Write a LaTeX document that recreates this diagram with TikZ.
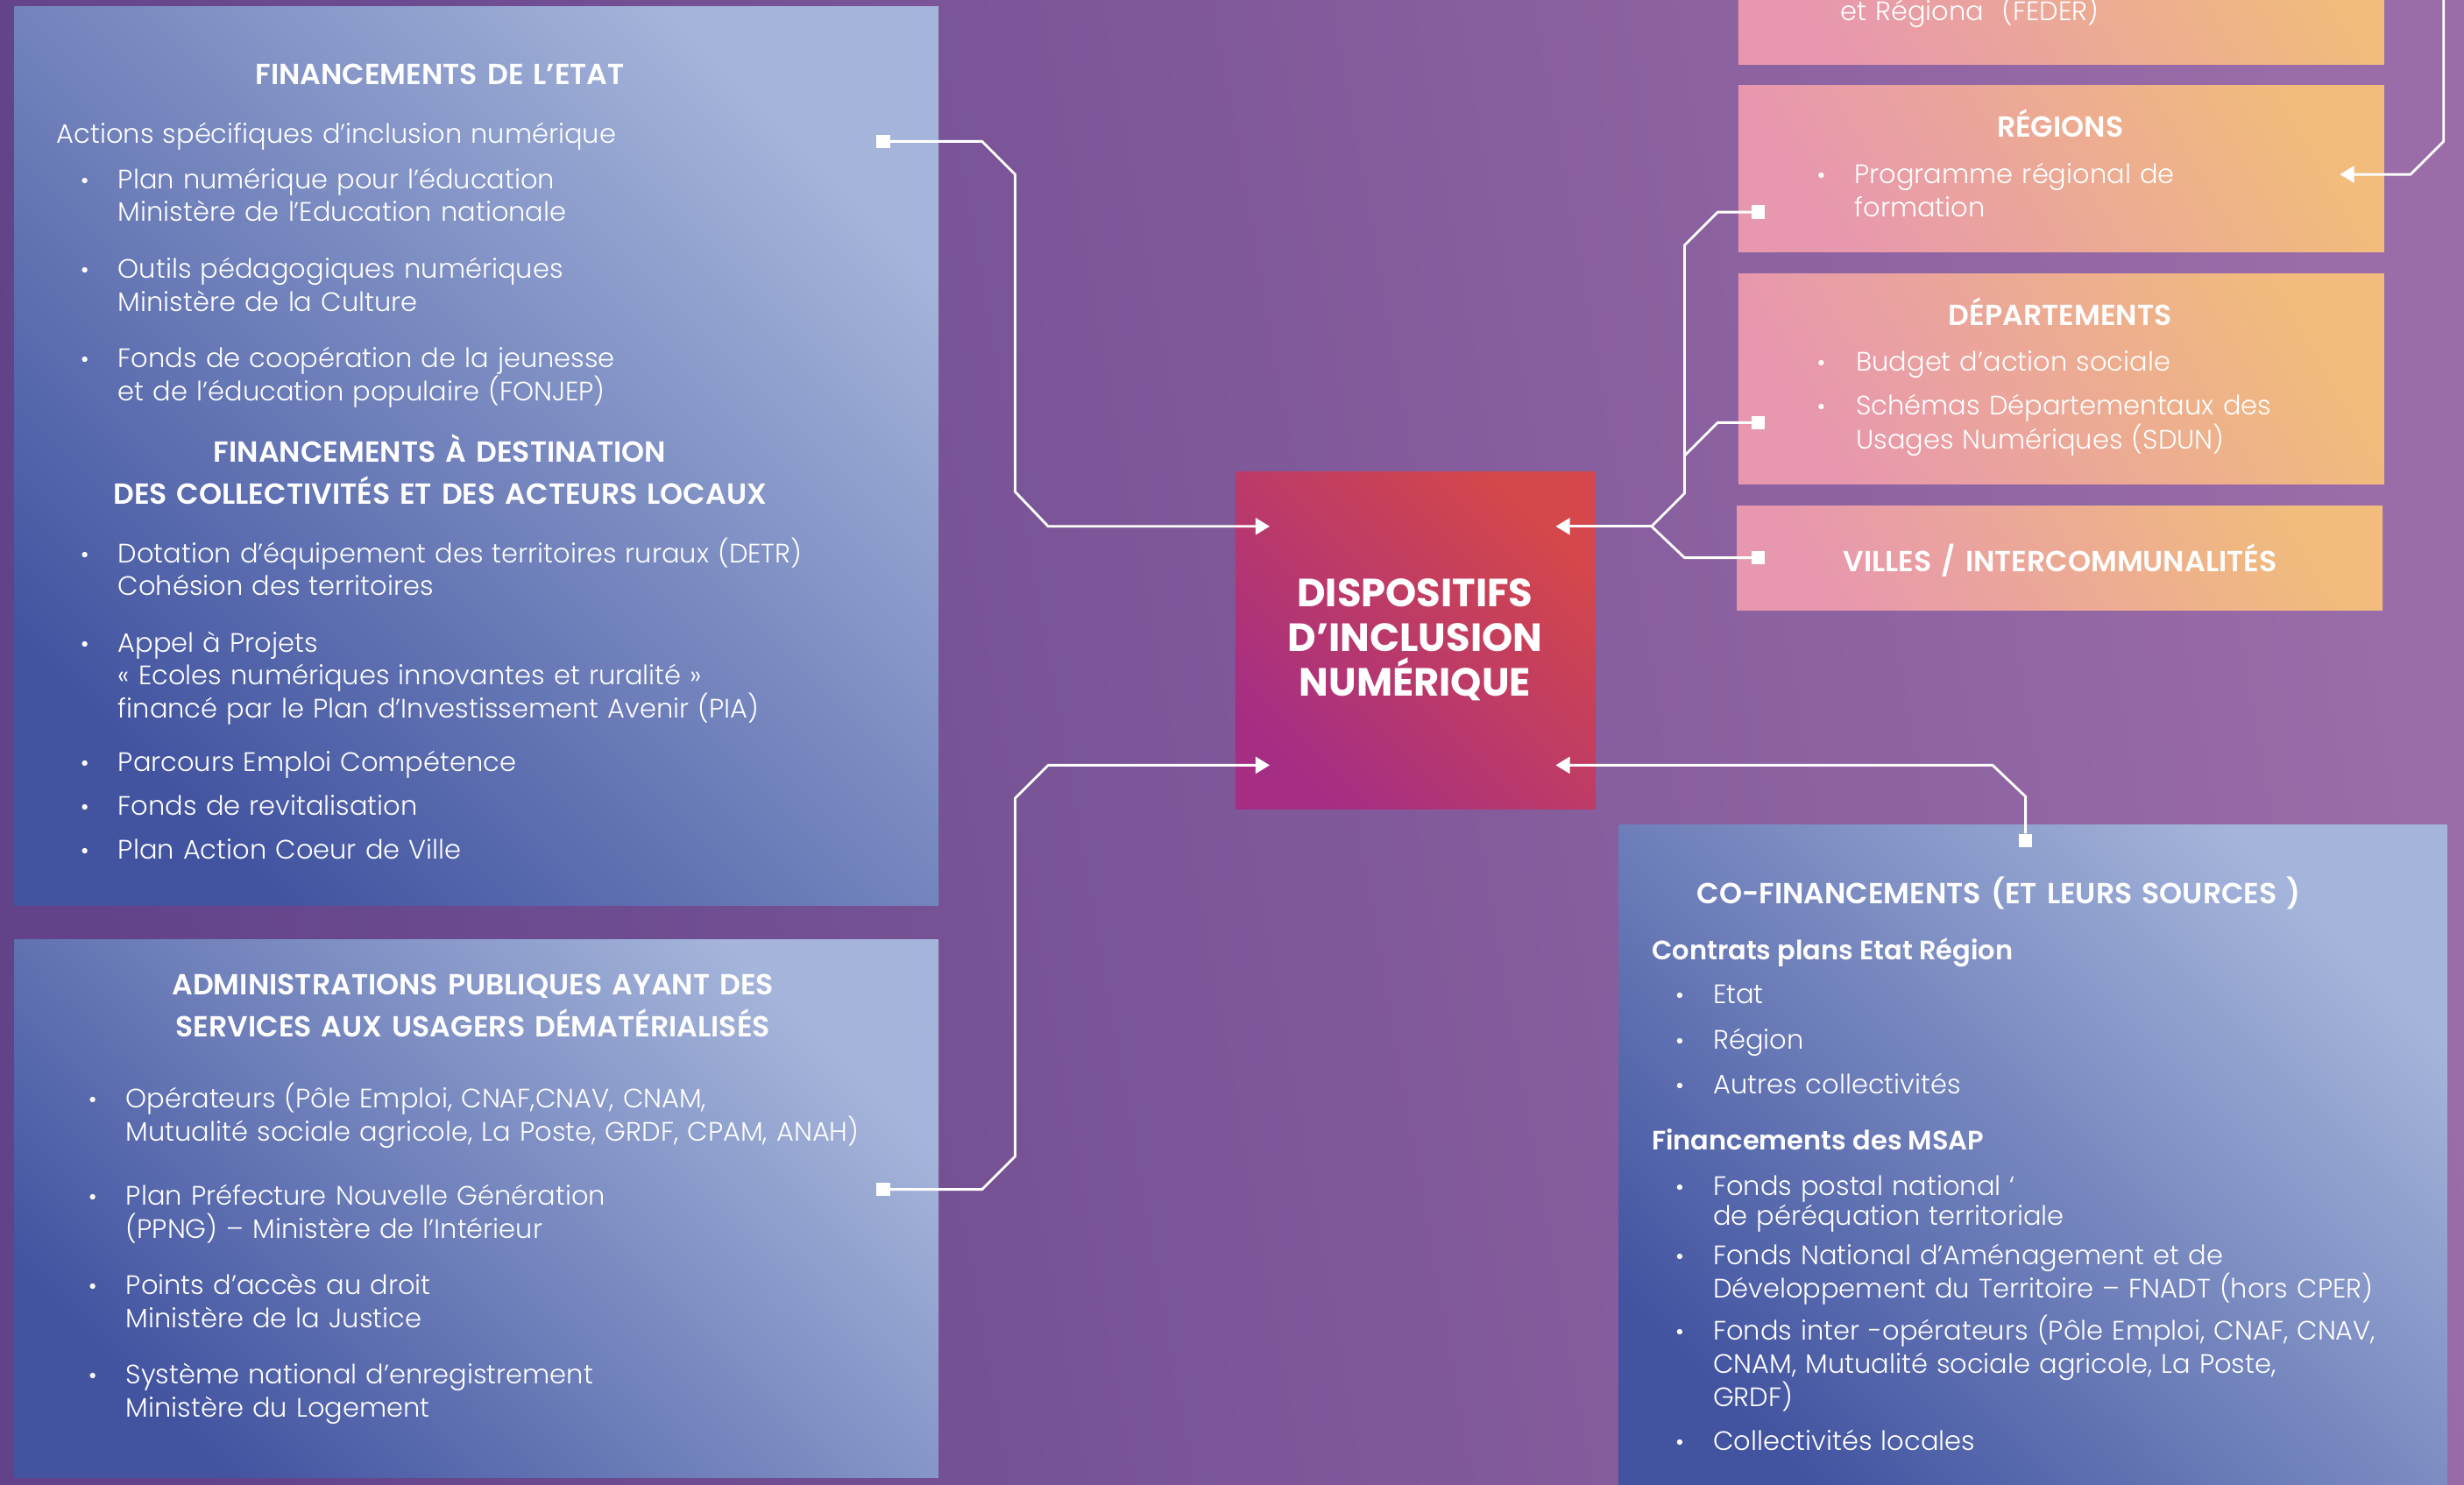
\documentclass[tikz,border=0pt]{standalone}
\usepackage{fontspec}
\setmainfont{Poppins Light}
\newfontfamily\titrefont{Poppins SemiBold}
\newfontfamily\grasfont{Poppins Bold}
\usetikzlibrary{arrows.meta}

\definecolor{fondG}{HTML}{62438A}
\definecolor{fondD}{HTML}{9A6CA8}
\definecolor{bleuC}{HTML}{A4B4DA}
\definecolor{bleuF}{HTML}{4254A0}
\definecolor{roseC}{HTML}{E797AE}
\definecolor{pecheC}{HTML}{F1BC7C}
\definecolor{rougeC}{HTML}{D4474A}
\definecolor{magentaC}{HTML}{A52E84}

\tikzset{
  boite/.style={rectangle, inner sep=0pt, anchor=north west},
  bleu/.style={top color=bleuC, bottom color=bleuF, shading angle=-45},
  peche/.style={top color=pecheC, bottom color=roseC, shading angle=-60},
  titre/.style={text=white, font=\titrefont\fontsize{18.5}{27}\selectfont, align=center, text width=560pt, anchor=base, inner sep=0pt, yshift=-1pt},
  soustitre/.style={text=white, font=\titrefont\fontsize{17}{21}\selectfont, anchor=base west, inner sep=0pt, yshift=-1pt},
  texte/.style={text=white, font=\fontsize{17}{21}\selectfont, align=left, text width=520pt, anchor=base west, inner sep=0pt, yshift=-2pt},
  puce/.style={text=white, font=\fontsize{15}{15}\selectfont, anchor=base, inner sep=0pt, yshift=-2pt},
  lien/.style={white, line width=1.6pt, line join=round},
  fleche/.style={lien, -{Triangle[length=9pt,width=10.5pt]}},
  carre/.style={fill=white, minimum size=8.5pt, inner sep=0pt},
}

\begin{document}
\begin{tikzpicture}[x=1pt, y=-1pt]
  \useasboundingbox (0,0) rectangle (1568,945);
  \clip (0,0) rectangle (1568,945);
  \shade[left color=fondG, right color=fondD, shading angle=100] (0,0) rectangle (1568,945);

  % boites
  \node[boite, bleu, minimum width=588pt, minimum height=572pt] (etat) at (9,4) {};
  \node[boite, bleu, minimum width=588pt, minimum height=342pt] (admin) at (9,598) {};
  \node[boite, top color=rougeC, bottom color=magentaC, shading angle=-45, minimum width=229pt, minimum height=215pt] (dispositifs) at (786,300) {};
  \node[boite, peche, minimum width=411pt, minimum height=101pt] (feder) at (1106,-60) {};
  \node[boite, peche, minimum width=411pt, minimum height=106pt] (regions) at (1106,54) {};
  \node[boite, peche, minimum width=411pt, minimum height=134pt] (departements) at (1106,174) {};
  \node[boite, peche, minimum width=411pt, minimum height=66pt] (villes) at (1105,322) {};
  \node[boite, bleu, minimum width=527pt, minimum height=440pt] (cofin) at (1030,525) {};

  % financements de l'etat
  \node[titre] (tEtat) at (280,53) {FINANCEMENTS DE L’ETAT};
  \node[texte] (actions) at (36,89) {Actions spécifiques d’inclusion numérique};
  \node[texte] (planEdu) at (75,118) {Plan numérique pour l’éducation\\Ministère de l’Education nationale};
  \node[texte] (outils) at (75,175) {Outils pédagogiques numériques\\Ministère de la Culture};
  \node[texte] (fonjep) at (75,232) {Fonds de coopération de la jeunesse\\et de l’éducation populaire (FONJEP)};
  \node[titre] (tColl) at (280,293) {FINANCEMENTS À DESTINATION\\DES COLLECTIVITÉS ET DES ACTEURS LOCAUX};
  \node[texte] (detr) at (75,356) {Dotation d'équipement des territoires ruraux (DETR)\\Cohésion des territoires};
  \node[texte] (appel) at (75,413) {Appel à Projets\\« Ecoles numériques innovantes et ruralité »\\financé par le Plan d’Investissement Avenir (PIA)};
  \node[texte] (parcours) at (75,489) {Parcours Emploi Compétence};
  \node[texte] (revit) at (75,517) {Fonds de revitalisation};
  \node[texte] (coeur) at (75,545) {Plan Action Coeur de Ville};
  \foreach \y in {118,175,232,356,413,489,517,545}
    \node[puce] (pA\y) at (54,\y) {\textbullet};

  % administrations
  \node[titre] (tAdmin) at (301,632) {ADMINISTRATIONS PUBLIQUES AYANT DES\\SERVICES AUX USAGERS DÉMATÉRIALISÉS};
  \node[texte] (operateurs) at (80,703) {Opérateurs (Pôle Emploi, CNAF,CNAV, CNAM,\\Mutualité sociale agricole, La Poste, GRDF, CPAM, ANAH)};
  \node[texte] (ppng) at (80,765) {Plan Préfecture Nouvelle Génération\\(PPNG) – Ministère de l’Intérieur};
  \node[texte] (droit) at (80,822) {Points d’accès au droit\\Ministère de la Justice};
  \node[texte] (logement) at (80,879) {Système national d’enregistrement\\Ministère du Logement};
  \foreach \y in {703,765,822,879}
    \node[puce] (pB\y) at (59,\y) {\textbullet};

  % centre
  \node[text=white, font=\grasfont\fontsize{25}{28.5}\selectfont, align=center] (tCentre) at (900.5,407) {DISPOSITIFS\\D’INCLUSION\\NUMÉRIQUE};

  % collectivites
  \node[texte] (tFeder) at (1171,11) {et Régiona\ \ (FEDER)};
  \node[titre] (tRegions) at (1311,86) {RÉGIONS};
  \node[texte] (programme) at (1180,115) {Programme régional de\\formation};
  \node[titre] (tDep) at (1311,206) {DÉPARTEMENTS};
  \node[texte] (budget) at (1181,234) {Budget d’action sociale};
  \node[texte, font=\fontsize{17}{22}\selectfont] (sdun) at (1181,262) {Schémas Départementaux des\\Usages Numériques (SDUN)};
  \node[titre] (tVilles) at (1311,363) {VILLES / INTERCOMMUNALITÉS};
  \foreach \y in {115,234,262}
    \node[puce] (pR\y) at (1159,\y) {\textbullet};

  % co-financements
  \node[titre] (tCofin) at (1272,574) {CO-FINANCEMENTS (ET LEURS SOURCES )};
  \node[soustitre] (cper) at (1051,610) {Contrats plans Etat Région};
  \node[texte] (cEtat) at (1090,637) {Etat};
  \node[texte] (cRegion) at (1090,666) {Région};
  \node[texte] (cAutres) at (1090,694) {Autres collectivités};
  \node[soustitre] (msap) at (1051,731) {Financements des MSAP};
  \node[texte, font=\fontsize{17}{19}\selectfont] (postal) at (1090,759) {Fonds postal national ‘\\de péréquation territoriale};
  \node[texte] (fnadt) at (1090,803) {Fonds National d'Aménagement et de\\Développement du Territoire – FNADT (hors CPER)};
  \node[texte] (inter) at (1090,851) {Fonds inter -opérateurs (Pôle Emploi, CNAF, CNAV,\\CNAM, Mutualité sociale agricole, La Poste,\\GRDF)};
  \node[texte] (locales) at (1090,921) {Collectivités locales};
  \foreach \y in {637,666,694,759,803,851,921}
    \node[puce] (pC\y) at (1069,\y) {\textbullet};

  % points d'accroche
  \coordinate (inHG) at (808,335);
  \coordinate (inBG) at (808,487);
  \coordinate (inHD) at (990,335);
  \coordinate (inBD) at (990,487);
  \coordinate (noeud) at (1051,335);
  \coordinate (fedOut) at (1555,-5);
  \coordinate (regFl) at (1489,111);
  \node[carre] (sqEtat) at (562,90) {};
  \node[carre] (sqAdmin) at (562,757) {};
  \node[carre] (sqReg) at (1119,135) {};
  \node[carre] (sqDep) at (1119,269) {};
  \node[carre] (sqVil) at (1119,355) {};
  \node[carre] (sqCof) at (1289,535) {};

  % liens
  \draw[fleche] (sqEtat) -- ++(63,0) -- ++(21,21) -- (646,313) -- ++(21,22) -- (inHG);
  \draw[fleche] (sqAdmin) -- ++(63,0) -- ++(21,-21) -- (646,508) -- ++(21,-21) -- (inBG);
  \draw[fleche] (noeud) -- (inHD);
  \draw[lien] (noeud) -- ++(21,-21) -- (1072,156) -- ++(21,-21) -- (sqReg);
  \draw[lien] (1072,290) -- ++(21,-21) -- (sqDep);
  \draw[lien] (noeud) -- ++(21,20) -- (sqVil);
  \draw[fleche] (sqCof) -- ++(0,-28) -- ++(-21,-20) -- (inBD);
  \draw[fleche] (fedOut) -- (1555,90) -- ++(-21,21) -- (regFl);
\end{tikzpicture}
\end{document}
